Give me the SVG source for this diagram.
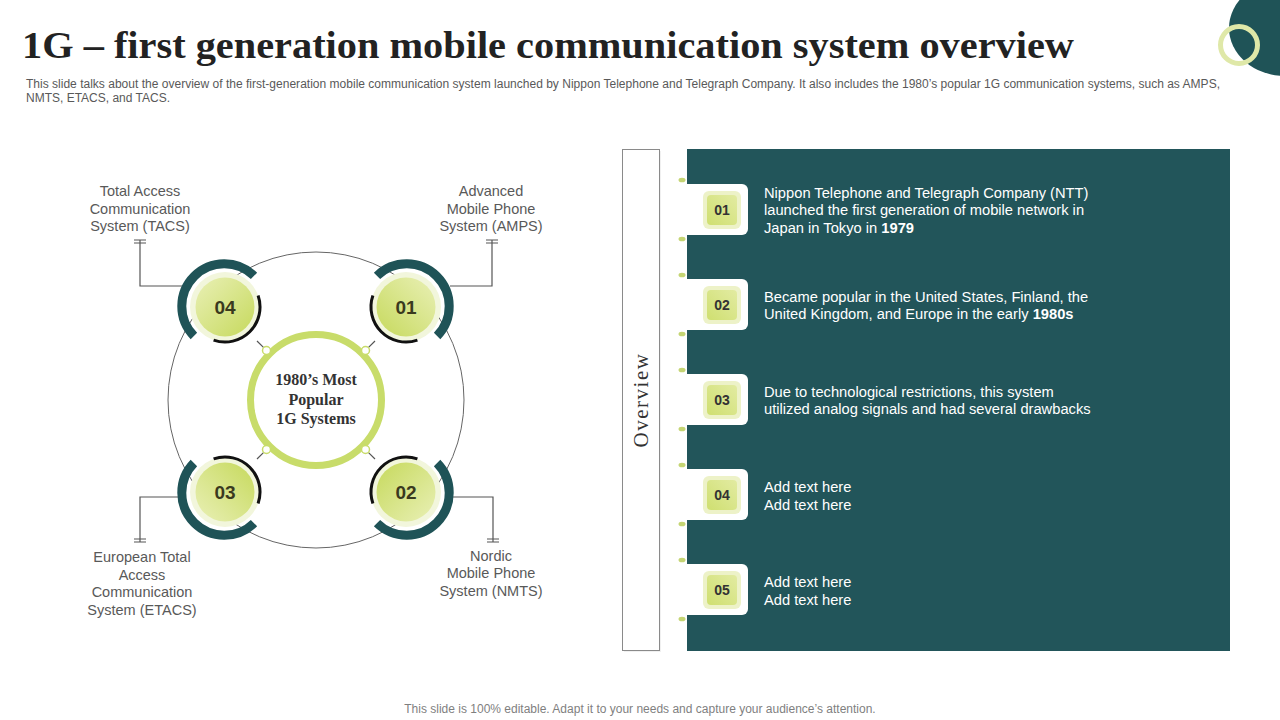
<svg xmlns="http://www.w3.org/2000/svg" xmlns:xlink="http://www.w3.org/1999/xlink" width="1280" height="720" viewBox="0 0 1280 720">
<style>
.title{font-family:"Liberation Serif",serif;font-weight:bold;font-size:38px;fill:#222}
.sub{font-family:"Liberation Sans",Arial,sans-serif;font-size:12px;fill:#595959}
.foot{font-family:"Liberation Sans",Arial,sans-serif;font-size:12px;fill:#7f7f7f}
.lbl{font-family:"Liberation Sans",Arial,sans-serif;font-size:14.5px;fill:#595959;text-anchor:middle}
.ctr{font-family:"Liberation Serif",serif;font-weight:bold;font-size:16px;fill:#333;text-anchor:middle}
.num{font-family:"Liberation Sans",Arial,sans-serif;font-weight:bold;font-size:19px;fill:#3a3a1e;text-anchor:middle}
.snum{font-family:"Liberation Sans",Arial,sans-serif;font-weight:bold;font-size:14px;fill:#333;text-anchor:middle}
.ptxt{font-family:"Liberation Sans",Arial,sans-serif;font-size:14.7px;fill:#ffffff}
.conn{fill:none;stroke:#555;stroke-width:1.2}
.teal{fill:none;stroke:#1f5357;stroke-width:9}
.blk{fill:none;stroke:#111;stroke-width:3}
.mark{fill:#c5d574}
</style>
<defs>
<linearGradient id="gDisc" x1="0" y1="1" x2="1" y2="0">
<stop offset="0" stop-color="#c6d95c"/>
<stop offset="1" stop-color="#e9f0b6"/>
</linearGradient>
<linearGradient id="gSq" x1="0" y1="1" x2="1" y2="0">
<stop offset="0" stop-color="#cfdf70"/>
<stop offset="1" stop-color="#e2eba2"/>
</linearGradient>
<g id="arcs">
<path class="teal" d="M -29.0 -31.1 A 42.5 42.5 0 0 1 31.1 29.0"/>
<circle r="35" fill="#f2f6dc"/>
<circle r="29.5" fill="url(#gDisc)"/>
<path class="blk" d="M 11.4 33.1 A 35 35 0 0 1 -33.1 -11.4"/>
</g>
<g id="tab">
<rect x="678" y="-26" width="70" height="51" rx="6" fill="#ffffff"/>
<ellipse class="mark" cx="682" cy="-30" rx="3.5" ry="2.3"/>
<ellipse class="mark" cx="682" cy="29" rx="3.5" ry="2.3"/>
<rect x="703" y="-19" width="38" height="38" rx="6" fill="#edf2c8"/>
<rect x="707" y="-15" width="30" height="30" rx="4" fill="url(#gSq)"/>
</g>
</defs>
<rect width="1280" height="720" fill="#ffffff"/>

<g id="decor">
<ellipse cx="1285" cy="28" rx="56" ry="48" fill="#1f5357"/>
<circle cx="1239" cy="45" r="18.5" fill="none" stroke="#dfe8a8" stroke-width="5"/>
</g>

<g id="header">
<text class="title" x="22" y="58" textLength="1052" lengthAdjust="spacingAndGlyphs">1G – first generation mobile communication system overview</text>
<text class="sub" x="26" y="88" textLength="1194" lengthAdjust="spacingAndGlyphs">This slide talks about the overview of the first-generation mobile communication system launched by Nippon Telephone and Telegraph Company. It also includes the 1980’s popular 1G communication systems, such as AMPS,</text>
<text class="sub" x="26" y="102">NMTS,  ETACS, and TACS.</text>
</g>

<g id="outer-circle">
<circle cx="316" cy="400" r="148" fill="none" stroke="#666" stroke-width="1"/>
</g>

<g id="connectors">
<path class="conn" d="M 183 286 H 140 V 240 M 134 240 H 146 M 134 243 H 146"/>
<path class="conn" d="M 450 286 H 492 V 240 M 486 240 H 498 M 486 243 H 498"/>
<path class="conn" d="M 183 497 H 140 V 542 M 134 539 H 146 M 134 542 H 146"/>
<path class="conn" d="M 450 497 H 493 V 542 M 487 539 H 499 M 487 542 H 499"/>
<path class="conn" d="M 263.7 347.7 L 257 341 M 368.3 347.7 L 375 341 M 263.7 452.3 L 257 459 M 368.3 452.3 L 375 459" stroke="#888"/>
</g>

<g id="center">
<circle cx="316" cy="400" r="65.5" fill="#ffffff" stroke="#c8dc6a" stroke-width="7"/>
<circle cx="266.5" cy="350.5" r="4" fill="#fff" stroke="#c8dc6a" stroke-width="1.5"/>
<circle cx="365.5" cy="350.5" r="4" fill="#fff" stroke="#c8dc6a" stroke-width="1.5"/>
<circle cx="266.5" cy="449.5" r="4" fill="#fff" stroke="#c8dc6a" stroke-width="1.5"/>
<circle cx="365.5" cy="449.5" r="4" fill="#fff" stroke="#c8dc6a" stroke-width="1.5"/>
<text class="ctr" x="316" y="385">1980’s Most</text>
<text class="ctr" x="316" y="405">Popular</text>
<text class="ctr" x="316" y="424">1G Systems</text>
</g>

<g id="node-01">
<use xlink:href="#arcs" href="#arcs" transform="translate(406,307)"/>
<text class="num" x="406" y="314">01</text>
<text class="lbl" x="491" y="196">Advanced</text>
<text class="lbl" x="491" y="214">Mobile Phone</text>
<text class="lbl" x="491" y="231">System (AMPS)</text>
</g>
<g id="node-02">
<use xlink:href="#arcs" href="#arcs" transform="translate(406,492) rotate(90)"/>
<text class="num" x="406" y="499">02</text>
<text class="lbl" x="491" y="561">Nordic</text>
<text class="lbl" x="491" y="578">Mobile Phone</text>
<text class="lbl" x="491" y="596">System (NMTS)</text>
</g>
<g id="node-03">
<use xlink:href="#arcs" href="#arcs" transform="translate(225,492) rotate(180)"/>
<text class="num" x="225" y="499">03</text>
<text class="lbl" x="142" y="562">European Total</text>
<text class="lbl" x="142" y="580">Access</text>
<text class="lbl" x="142" y="597">Communication</text>
<text class="lbl" x="142" y="615">System (ETACS)</text>
</g>
<g id="node-04">
<use xlink:href="#arcs" href="#arcs" transform="translate(225,307) rotate(-90)"/>
<text class="num" x="225" y="314">04</text>
<text class="lbl" x="140" y="196">Total Access</text>
<text class="lbl" x="140" y="214">Communication</text>
<text class="lbl" x="140" y="231">System (TACS)</text>
</g>

<g id="overview-label">
<rect x="624" y="151" width="37" height="501" fill="#e6e6e6" opacity="0.6"/>
<rect x="622.5" y="149.5" width="37" height="501" fill="#ffffff" stroke="#8a8a8a" stroke-width="1"/>
<text x="648" y="400" transform="rotate(-90 648 400)" text-anchor="middle" font-family="Liberation Serif, serif" font-size="21" letter-spacing="1.5" fill="#333">Overview</text>
</g>

<g id="panel">
<rect x="687" y="149" width="543" height="502" fill="#22555a"/>
</g>

<g id="item-01">
<use xlink:href="#tab" href="#tab" transform="translate(0,210)"/>
<text class="snum" x="722" y="215">01</text>
<text class="ptxt" x="764" y="197.5">Nippon Telephone and Telegraph Company (NTT)</text>
<text class="ptxt" x="764" y="215">launched the first generation of mobile network in</text>
<text class="ptxt" x="764" y="232.5">Japan in Tokyo in <tspan font-weight="bold">1979</tspan></text>
</g>
<g id="item-02">
<use xlink:href="#tab" href="#tab" transform="translate(0,305)"/>
<text class="snum" x="722" y="310">02</text>
<text class="ptxt" x="764" y="301.5">Became popular in the United States, Finland, the</text>
<text class="ptxt" x="764" y="319">United Kingdom, and Europe in the early <tspan font-weight="bold">1980s</tspan></text>
</g>
<g id="item-03">
<use xlink:href="#tab" href="#tab" transform="translate(0,400)"/>
<text class="snum" x="722" y="405">03</text>
<text class="ptxt" x="764" y="396.5">Due to technological restrictions, this system</text>
<text class="ptxt" x="764" y="414">utilized analog signals and had several drawbacks</text>
</g>
<g id="item-04">
<use xlink:href="#tab" href="#tab" transform="translate(0,495)"/>
<text class="snum" x="722" y="500">04</text>
<text class="ptxt" x="764" y="492">Add text here</text>
<text class="ptxt" x="764" y="510">Add text here</text>
</g>
<g id="item-05">
<use xlink:href="#tab" href="#tab" transform="translate(0,590)"/>
<text class="snum" x="722" y="595">05</text>
<text class="ptxt" x="764" y="587">Add text here</text>
<text class="ptxt" x="764" y="605">Add text here</text>
</g>

<g id="footer">
<text class="foot" x="640" y="713" text-anchor="middle">This slide is 100% editable. Adapt it to your needs and capture your audience’s attention.</text>
</g>
</svg>
